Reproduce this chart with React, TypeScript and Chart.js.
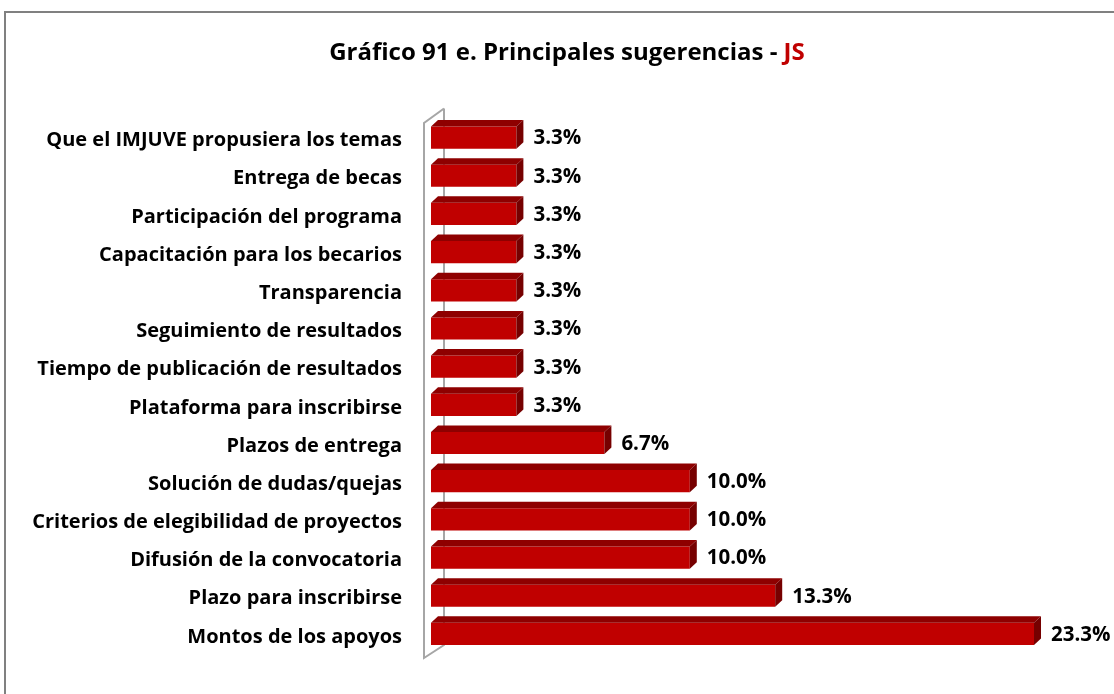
import { useEffect, useRef } from 'react';
import { Chart, registerables } from 'chart.js';

Chart.register(...registerables);

const categories = [
  'Que el IMJUVE propusiera los temas',
  'Entrega de becas',
  'Participación del programa',
  'Capacitación para los becarios',
  'Transparencia',
  'Seguimiento de resultados',
  'Tiempo de publicación de resultados',
  'Plataforma para inscribirse',
  'Plazos de entrega',
  'Solución de dudas/quejas',
  'Criterios de elegibilidad de proyectos',
  'Difusión de la convocatoria',
  'Plazo para inscribirse',
  'Montos de los apoyos',
];
const values = [3.3, 3.3, 3.3, 3.3, 3.3, 3.3, 3.3, 3.3, 6.7, 10.0, 10.0, 10.0, 13.3, 23.3];
const titleMain = 'Gráfico 91 e. Principales sugerencias - ';
const titleAccent = 'JS';

const FONT = '"Open Sans", "Noto Sans", sans-serif';
const FACE = '#C00000';
const TOP = '#8E0000';
const SIDE = '#760000';

const decorPlugin = {
  id: 'decor',
  beforeDraw(chart: any) {
    const ctx = chart.ctx;
    ctx.save();
    ctx.fillStyle = '#ffffff';
    ctx.fillRect(0, 0, chart.width, chart.height);
    ctx.strokeStyle = '#808080';
    ctx.lineWidth = 2;
    ctx.strokeRect(5, 12, chart.width + 20, chart.height + 20);
    // title
    ctx.font = `bold 24px ${FONT}`;
    ctx.textBaseline = 'alphabetic';
    const w1 = ctx.measureText(titleMain).width;
    const w2 = ctx.measureText(titleAccent).width;
    const x0 = 567 - (w1 + w2) / 2;
    ctx.fillStyle = '#000000';
    ctx.textAlign = 'left';
    ctx.fillText(titleMain, x0, 60);
    ctx.fillStyle = '#C00000';
    ctx.fillText(titleAccent, x0 + w1, 60);
    ctx.restore();
  },
  beforeDatasetsDraw(chart: any) {
    const ctx = chart.ctx;
    const { left, top, bottom } = chart.chartArea;
    ctx.save();
    ctx.strokeStyle = '#A6A6A6';
    ctx.lineWidth = 2;
    ctx.beginPath();
    ctx.moveTo(left + 13, top - 10);
    ctx.lineTo(left - 7, top + 4.5);
    ctx.lineTo(left - 7, bottom + 5);
    ctx.lineTo(left + 13, bottom - 8);
    ctx.lineTo(left + 13, top - 10);
    ctx.stroke();
    ctx.restore();
  },
  afterDatasetsDraw(chart: any) {
    const ctx = chart.ctx;
    const meta = chart.getDatasetMeta(0);
    const dx = 7;
    const dy = 6.5;
    ctx.save();
    meta.data.forEach((bar: any, i: number) => {
      const { x, y, base, height } = bar.getProps(['x', 'y', 'base', 'height'], true);
      const t = y - height / 2;
      const b = y + height / 2;
      ctx.fillStyle = TOP;
      ctx.beginPath();
      ctx.moveTo(base, t);
      ctx.lineTo(base + dx, t - dy);
      ctx.lineTo(x + dx, t - dy);
      ctx.lineTo(x, t);
      ctx.closePath();
      ctx.fill();
      ctx.fillStyle = SIDE;
      ctx.beginPath();
      ctx.moveTo(x, t);
      ctx.lineTo(x + dx, t - dy);
      ctx.lineTo(x + dx, b - dy);
      ctx.lineTo(x, b);
      ctx.closePath();
      ctx.fill();
      ctx.fillStyle = '#000000';
      ctx.font = `bold 20.5px ${FONT}`;
      ctx.textAlign = 'left';
      ctx.textBaseline = 'middle';
      ctx.fillText(values[i].toFixed(1) + '%', x + 17, y + 1);
    });
    ctx.restore();
  },
};

export default function App() {
  const ref = useRef<HTMLCanvasElement | null>(null);
  useEffect(() => {
    if (!ref.current) return;
    const chart = new Chart(ref.current, {
      type: 'bar',
      data: {
        labels: categories,
        datasets: [
          {
            data: values,
            backgroundColor: FACE,
            borderWidth: 0,
            barPercentage: 0.58,
            categoryPercentage: 1,
          },
        ],
      },
      options: {
        indexAxis: 'y',
        responsive: false,
        animation: false,
        layout: { padding: { left: 0, right: 36, top: 118.5, bottom: 32.5 } },
        plugins: { legend: { display: false }, title: { display: false }, tooltip: { enabled: false } },
        scales: {
          x: { display: false, min: 0, max: 25 },
          y: {
            grid: { display: false, drawTicks: false },
            border: { display: false },
            afterFit(scale: any) {
              scale.width = 431;
            },
            ticks: {
              padding: 29,
              labelOffset: 3,
              color: '#000000',
              font: { family: FONT, size: 20, weight: 'bold' },
            },
          },
        },
      },
      plugins: [decorPlugin],
    });
    return () => chart.destroy();
  }, []);
  return (
    <div style={{ position: 'fixed', left: 0, top: 0, width: 1114, height: 694, background: '#fff' }}>
      <canvas ref={ref} width={1114} height={694} style={{ display: 'block' }} />
    </div>
  );
}
